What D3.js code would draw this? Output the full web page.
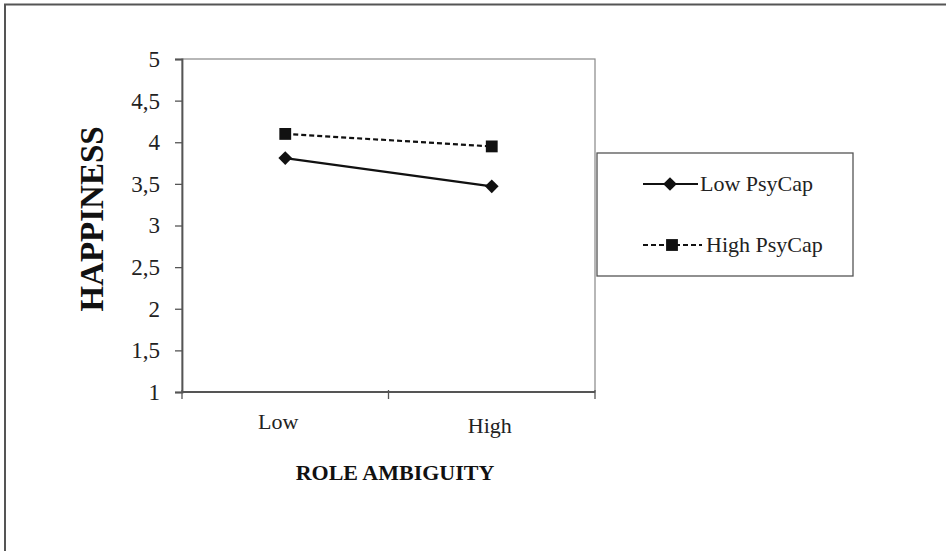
<!DOCTYPE html>
<html><head><meta charset="utf-8">
<script src="https://cdn.jsdelivr.net/npm/d3@7"></script>
<style>
body{margin:0;background:#fff;}
svg{display:block;font-family:"Liberation Serif","Times New Roman",serif;}
</style></head>
<body>
<svg id="c" width="946" height="551"></svg>
<script>
const categories = ["Low", "High"];
const seriesNames = ["Low PsyCap", "High PsyCap"];
const lowPsyCap = [3.81, 3.47];
const highPsyCap = [4.10, 3.95];
const yTicks = [1, 1.5, 2, 2.5, 3, 3.5, 4, 4.5, 5];
const yTickLabels = ["1", "1,5", "2", "2,5", "3", "3,5", "4", "4,5", "5"];

const svg = d3.select("#c");
// outer frame
svg.append("path").attr("d","M5,551 V4.5 H946").attr("fill","none").attr("stroke","#555").attr("stroke-width",2);

const L=182, R=595, T=59, B=392;
const x = d3.scaleBand().domain(categories).range([L,R]);
const y = d3.scaleLinear().domain([1,5]).range([B,T]);

// plot frame
svg.append("rect").attr("x",L).attr("y",T).attr("width",R-L).attr("height",B-T)
  .attr("fill","none").attr("stroke","#888").attr("stroke-width",1.2);

// y axis
const ya = svg.append("g").attr("transform",`translate(${L},0)`)
  .call(d3.axisLeft(y).tickValues(yTicks).tickSize(7).tickPadding(15).tickFormat((d,i)=>yTickLabels[i]));
ya.attr("font-family",null).attr("font-size",null);
ya.select(".domain").attr("stroke","#555").attr("stroke-width",1.8);
ya.selectAll(".tick line").attr("stroke","#555").attr("stroke-width",1.3);
ya.selectAll(".tick text").style("font-size","23px").attr("fill","#222").style("font-family","Liberation Serif");

// x axis
const xa = svg.append("g").attr("transform",`translate(0,${B})`)
  .call(d3.axisBottom(x).tickSize(0).tickPadding(0));
xa.attr("font-family",null).attr("font-size",null);
xa.select(".domain").remove();
xa.append("line").attr("x1",L).attr("x2",R).attr("stroke","#555").attr("stroke-width",1.8);
const xtickPos = [L, (L+R)/2, R];
xa.selectAll(".sep").data(xtickPos).join("line").attr("class","sep")
  .attr("x1",d=>d).attr("x2",d=>d).attr("y1",-2).attr("y2",7).attr("stroke","#555").attr("stroke-width",1.3);
xa.selectAll(".tick text").style("font-size","22px").attr("fill","#222").style("font-family","Liberation Serif")
  .attr("dy",null).attr("y",(d,i)=> i===0?37:41).attr("dx",(d,i)=> i===0?-7:-2);

// titles
svg.append("text").attr("transform","translate(103,219) rotate(-90)").attr("text-anchor","middle")
  .attr("font-size",33).attr("font-weight","bold").attr("fill","#111").text("HAPPINESS");
svg.append("text").attr("x",395).attr("y",480).attr("text-anchor","middle")
  .attr("font-size",22).attr("font-weight","bold").attr("fill","#111").text("ROLE AMBIGUITY");

const line = d3.line().x((d,i)=>x(categories[i])+x.bandwidth()/2).y(d=>y(d));
const diamond = d3.symbol().type(d3.symbolDiamond2).size(120);
const square = d3.symbol().type(d3.symbolSquare).size(140);

// lines
svg.append("path").attr("d",line(lowPsyCap)).attr("fill","none").attr("stroke","#111").attr("stroke-width",2.2);
svg.append("path").attr("d",line(highPsyCap)).attr("fill","none").attr("stroke","#111").attr("stroke-width",2.2).attr("stroke-dasharray","5,3");
svg.selectAll(".m1").data(lowPsyCap).join("path").attr("class","m1")
  .attr("transform",(d,i)=>`translate(${x(categories[i])+x.bandwidth()/2},${y(d)})`).attr("d",diamond).attr("fill","#111");
svg.selectAll(".m2").data(highPsyCap).join("path").attr("class","m2")
  .attr("transform",(d,i)=>`translate(${x(categories[i])+x.bandwidth()/2},${y(d)})`).attr("d",square).attr("fill","#111");

// legend
const lg = svg.append("g");
lg.append("rect").attr("x",597).attr("y",153).attr("width",256).attr("height",123)
  .attr("fill","#fff").attr("stroke","#555").attr("stroke-width",1.3);
const ly = [184, 245];
lg.append("line").attr("x1",643).attr("x2",698).attr("y1",ly[0]).attr("y2",ly[0]).attr("stroke","#111").attr("stroke-width",2.2);
lg.append("path").attr("transform",`translate(670,${ly[0]})`).attr("d",diamond).attr("fill","#111");
lg.append("line").attr("x1",643).attr("x2",702).attr("y1",ly[1]).attr("y2",ly[1]).attr("stroke","#111").attr("stroke-width",2.2).attr("stroke-dasharray","5,3");
lg.append("path").attr("transform",`translate(672,${ly[1]})`).attr("d",square).attr("fill","#111");
lg.selectAll(".lt").data(seriesNames).join("text").attr("class","lt")
  .attr("x",(d,i)=> i===0?700:706).attr("y",(d,i)=>ly[i]+7).attr("font-size",22).attr("fill","#222").text(d=>d);
</script>
</body></html>
